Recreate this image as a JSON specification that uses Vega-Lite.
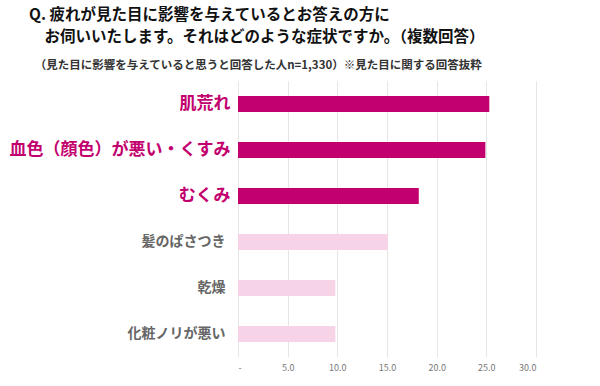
{
  "$schema": "https://vega.github.io/schema/vega-lite/v6.json",
  "autosize": {"type": "none"},
  "padding": {"left": 238, "top": 81, "right": 64, "bottom": 29},
  "width": 298,
  "height": 276,
  "background": "white",
  "config": {"font": "Noto Sans CJK JP", "view": {"stroke": null}},
  "title": {
    "text": ["Q. 疲れが見た目に影響を与えているとお答えの方に", "\u200b\u3000お伺いいたします。それはどのような症状ですか。（複数回答）"],
    "subtitle": "\u200b\u2002（見た目に影響を与えていると思うと回答した人n=1,330）※見た目に関する回答抜粋",
    "anchor": "start",
    "frame": "group",
    "dx": -209,
    "offset": 10,
    "font": "Noto Sans CJK JP",
    "fontSize": 15.5,
    "fontWeight": "bold",
    "color": "#111111",
    "lineHeight": 22,
    "subtitleFont": "Noto Sans CJK JP",
    "subtitleFontSize": 11.5,
    "subtitleFontWeight": "bold",
    "subtitleColor": "#333333",
    "subtitlePadding": 14
  },
  "data": {
    "values": [
      {"symptom": "肌荒れ", "value": 25.3, "group": "main"},
      {"symptom": "血色（顔色）が悪い・くすみ", "value": 24.9, "group": "main"},
      {"symptom": "むくみ", "value": 18.2, "group": "main"},
      {"symptom": "髪のぱさつき", "value": 15.1, "group": "other"},
      {"symptom": "乾燥", "value": 9.8, "group": "other"},
      {"symptom": "化粧ノリが悪い", "value": 9.8, "group": "other"}
    ]
  },
  "mark": {"type": "bar"},
  "encoding": {
    "y": {
      "field": "symptom",
      "type": "nominal",
      "sort": null,
      "title": null,
      "scale": {"paddingInner": 0.65, "paddingOuter": 0.325},
      "axis": {
        "domain": false,
        "ticks": false,
        "labelPadding": {"expr": "indexof(['肌荒れ','血色（顔色）が悪い・くすみ','むくみ'], datum.value) >= 0 ? 8 : 13"},
        "labelFont": "Noto Sans CJK JP",
        "labelFontWeight": "bold",
        "labelFontSize": {"expr": "indexof(['肌荒れ','血色（顔色）が悪い・くすみ','むくみ'], datum.value) >= 0 ? 17 : 14"},
        "labelColor": {"expr": "indexof(['肌荒れ','血色（顔色）が悪い・くすみ','むくみ'], datum.value) >= 0 ? '#c2006e' : '#666666'"},
        "labelLimit": 300
      }
    },
    "x": {
      "field": "value",
      "type": "quantitative",
      "title": null,
      "scale": {"domain": [0, 30], "nice": false},
      "axis": {
        "values": [0, 5, 10, 15, 20, 25, 30],
        "domain": false,
        "ticks": false,
        "grid": true,
        "gridColor": "#e6e6e6",
        "gridWidth": 1,
        "labelExpr": "datum.value == 0 ? '-' : format(datum.value, '.1f')",
        "labelFont": "Noto Sans CJK JP",
        "labelFontSize": 9,
        "labelColor": "#777777",
        "labelPadding": 6
      }
    },
    "color": {
      "field": "group",
      "type": "nominal",
      "scale": {"domain": ["main", "other"], "range": ["#c2006e", "#f6d3e7"]},
      "legend": null
    }
  }
}
